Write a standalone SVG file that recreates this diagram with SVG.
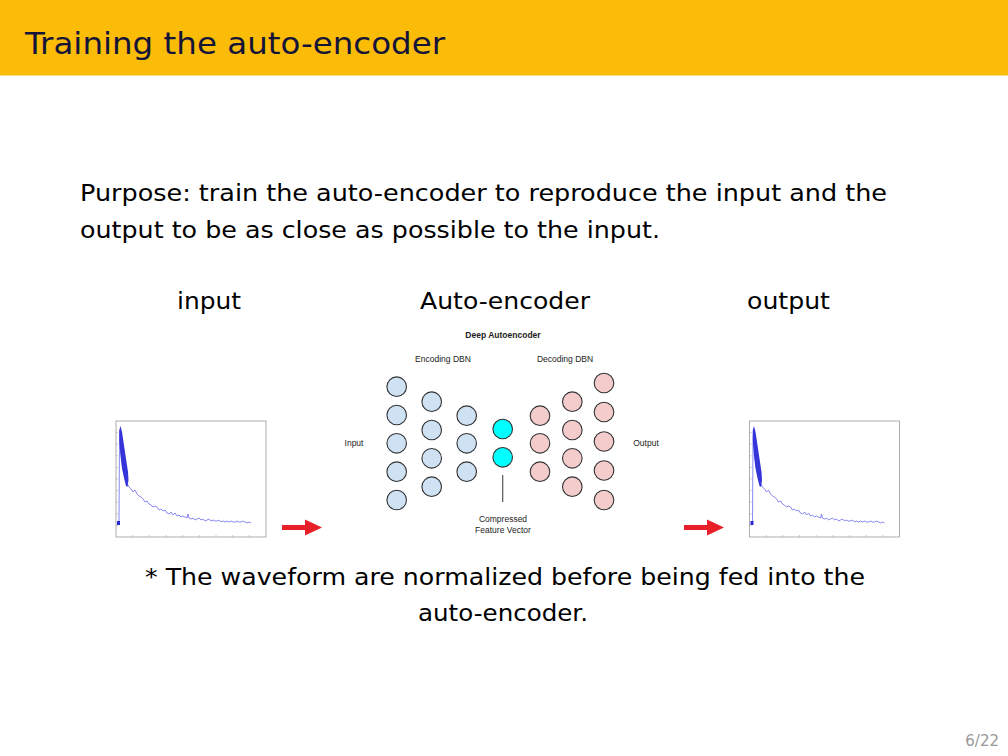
<svg xmlns="http://www.w3.org/2000/svg" xmlns:xlink="http://www.w3.org/1999/xlink" width="1008" height="756" viewBox="0 0 1008 756">
<style>
.t{font-family:"DejaVu Sans","Liberation Sans",sans-serif;fill:#000}
.body{font-size:23px}
.small{font-family:"Liberation Sans",Arial,sans-serif;font-size:8.5px;fill:#222}
.enc{fill:#cfe2f3;stroke:#333;stroke-width:1.1}
.dec{fill:#f4cccc;stroke:#333;stroke-width:1.1}
.mid{fill:#00ffff;stroke:#333;stroke-width:1.1}
.frame{fill:#fff;stroke:#999;stroke-width:0.8}
.arrow{fill:#e8202a}
</style>
<defs>
<g id="plot">
<rect class="frame" x="116" y="421" width="150" height="116"/>
<g stroke="#aaa" stroke-width="0.6">
<line x1="116" y1="432.6" x2="118" y2="432.6"/><line x1="116" y1="444.2" x2="118" y2="444.2"/>
<line x1="116" y1="455.8" x2="118" y2="455.8"/><line x1="116" y1="467.4" x2="118" y2="467.4"/>
<line x1="116" y1="479" x2="118" y2="479"/><line x1="116" y1="490.6" x2="118" y2="490.6"/>
<line x1="116" y1="502.2" x2="118" y2="502.2"/><line x1="116" y1="513.8" x2="118" y2="513.8"/>
<line x1="116" y1="525.4" x2="118" y2="525.4"/>
<line x1="132.7" y1="537" x2="132.7" y2="535"/><line x1="149.3" y1="537" x2="149.3" y2="535"/>
<line x1="166" y1="537" x2="166" y2="535"/><line x1="182.7" y1="537" x2="182.7" y2="535"/>
<line x1="199.3" y1="537" x2="199.3" y2="535"/><line x1="216" y1="537" x2="216" y2="535"/>
<line x1="232.7" y1="537" x2="232.7" y2="535"/><line x1="249.3" y1="537" x2="249.3" y2="535"/>
</g>
<polyline fill="none" stroke="#7b7bf0" stroke-width="0.9" points="118,523 119,523 119.5,440 120,430 121,450 122,462 123,470 125,478 127,483 129,487 131,489 133,492 135,490 137,494 139,496 141,497 143,499 145,502 147,501 149,504 151,505 153,507 155,506 157,507 159,510 161,509 163,511 165,510 167,513 169,514 171,512 173,515 175,513 177,516 179,515 181,517 183,516 185,517 187,518 188,514 189,518 191,519 193,518 195,520 197,519 199,518 201,520 203,519 205,521 207,520 209,519 211,521 213,520 215,521 217,521 219,520 221,522 223,521 225,522 227,521 229,522 231,521 233,522 235,522 237,521 239,522 241,522 243,521 245,522 247,523 249,522 251,523"/>
<polygon fill="#2a2ad0" points="117,521 120,521 120,525 117,525"/>
<polygon fill="#3434d8" points="119.3,430 120.5,426 122,432 123.5,442 125,452 126.5,462 128,472 128.5,480 127.5,487 126,486 124,478 122,468 120.5,456 119.5,444 119.3,438"/>
</g>
</defs>

<rect x="0" y="0" width="1008" height="756" fill="#fff"/>
<g id="title">
<rect x="0" y="0" width="1008" height="75.5" fill="#fbbc08"/>
<text x="25" y="54" font-family="DejaVu Sans,Liberation Sans,sans-serif" font-size="31" fill="#141438" textLength="420" lengthAdjust="spacingAndGlyphs">Training the auto-encoder</text>
</g>

<g id="body-text">
<text class="t body" x="80" y="201" textLength="807" lengthAdjust="spacingAndGlyphs">Purpose: train the auto-encoder to reproduce the input and the</text>
<text class="t body" x="80" y="238" textLength="580" lengthAdjust="spacingAndGlyphs">output to be as close as possible to the input.</text>
<text class="t body" x="177" y="309" textLength="64" lengthAdjust="spacingAndGlyphs">input</text>
<text class="t body" x="420" y="309" textLength="170" lengthAdjust="spacingAndGlyphs">Auto-encoder</text>
<text class="t body" x="747" y="309" textLength="83" lengthAdjust="spacingAndGlyphs">output</text>
<text class="t body" x="145" y="585" textLength="720" lengthAdjust="spacingAndGlyphs">* The waveform are normalized before being fed into the</text>
<text class="t body" x="418" y="621" textLength="170" lengthAdjust="spacingAndGlyphs">auto-encoder.</text>
</g>

<g id="input-plot"><use xlink:href="#plot" href="#plot"/></g>
<g id="output-plot"><use xlink:href="#plot" href="#plot" transform="translate(633.5,0)"/></g>

<g id="arrows">
<polygon class="arrow" points="282,525 305,525 305,519.5 322,527.5 305,535.5 305,530 282,530"/>
<polygon class="arrow" points="684,525 707,525 707,519.5 724,527.5 707,535.5 707,530 684,530"/>
</g>

<g id="autoencoder">
<text class="small" x="503" y="338" text-anchor="middle" font-weight="bold">Deep Autoencoder</text>
<text class="small" x="443" y="362" text-anchor="middle">Encoding DBN</text>
<text class="small" x="565" y="362" text-anchor="middle">Decoding DBN</text>
<text class="small" x="354" y="446" text-anchor="middle">Input</text>
<text class="small" x="646" y="446" text-anchor="middle">Output</text>
<text class="small" x="503" y="522" text-anchor="middle">Compressed</text>
<text class="small" x="503" y="533" text-anchor="middle">Feature Vector</text>
<line x1="502.7" y1="475" x2="502.7" y2="502" stroke="#555" stroke-width="1.2"/>
<g id="encoder">
<circle class="enc" cx="396.7" cy="386.7" r="9.8"/>
<circle class="enc" cx="396.7" cy="415" r="9.8"/>
<circle class="enc" cx="396.7" cy="443.3" r="9.8"/>
<circle class="enc" cx="396.7" cy="471.7" r="9.8"/>
<circle class="enc" cx="396.7" cy="500" r="9.8"/>
<circle class="enc" cx="431.7" cy="401.7" r="9.8"/>
<circle class="enc" cx="431.7" cy="430" r="9.8"/>
<circle class="enc" cx="431.7" cy="458.3" r="9.8"/>
<circle class="enc" cx="431.7" cy="486.7" r="9.8"/>
<circle class="enc" cx="466.7" cy="415.7" r="9.8"/>
<circle class="enc" cx="466.7" cy="443.3" r="9.8"/>
<circle class="enc" cx="466.7" cy="471.7" r="9.8"/>
</g>
<g id="code">
<circle class="mid" cx="502.7" cy="429" r="9.8"/>
<circle class="mid" cx="502.7" cy="457.3" r="9.8"/>
</g>
<g id="decoder">
<circle class="dec" cx="540" cy="415.7" r="9.8"/>
<circle class="dec" cx="540" cy="443.3" r="9.8"/>
<circle class="dec" cx="540" cy="471.7" r="9.8"/>
<circle class="dec" cx="572.3" cy="401.7" r="9.8"/>
<circle class="dec" cx="572.3" cy="430" r="9.8"/>
<circle class="dec" cx="572.3" cy="458.3" r="9.8"/>
<circle class="dec" cx="572.3" cy="486.7" r="9.8"/>
<circle class="dec" cx="604" cy="383" r="9.8"/>
<circle class="dec" cx="604" cy="412" r="9.8"/>
<circle class="dec" cx="604" cy="441.5" r="9.8"/>
<circle class="dec" cx="604" cy="470.5" r="9.8"/>
<circle class="dec" cx="604" cy="500" r="9.8"/>
</g>
</g>

<g id="page-number">
<text x="999" y="746" text-anchor="end" font-family="DejaVu Sans,Liberation Sans,sans-serif" font-size="15" fill="#999">6/22</text>
</g>
</svg>
